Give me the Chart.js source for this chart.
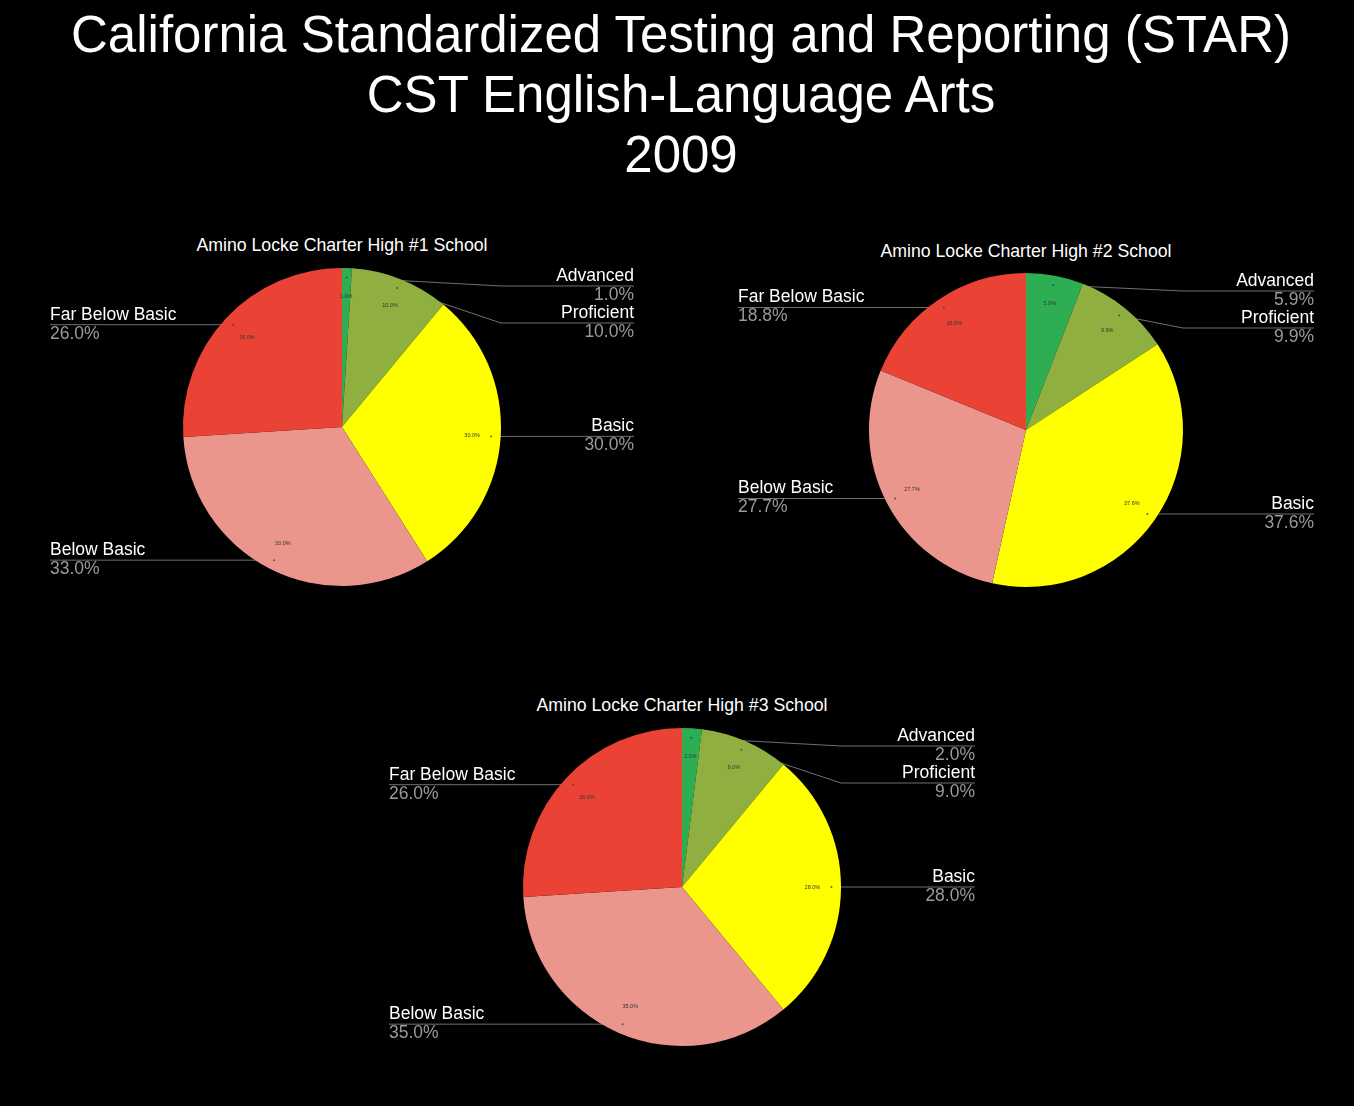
<!DOCTYPE html>
<html>
<head>
<meta charset="utf-8">
<script src="https://cdn.jsdelivr.net/npm/chart.js@4.4.1/dist/chart.umd.min.js"></script>
<style>
  html, body { margin:0; padding:0; background:#000; }
  body { width:1354px; height:1106px; position:relative; overflow:hidden; font-family:"Liberation Sans", Arial, sans-serif; }
  .tline { position:absolute; left:0; width:1362px; text-align:center; color:#fff; font-size:51px; line-height:60px; height:60px; white-space:nowrap; }
  .ptitle { position:absolute; width:600px; text-align:center; color:#fff; font-size:17.7px; line-height:20px; height:20px; white-space:nowrap; }
  canvas { position:absolute; }
</style>
</head>
<body>
<div class="tline" style="top:5px">California Standardized Testing and Reporting (STAR)</div>
<div class="tline" style="top:65px">CST English-Language Arts</div>
<div class="tline" style="top:125px">2009</div>

<script>
// ---- Data ----
const categories = ['Advanced', 'Proficient', 'Basic', 'Below Basic', 'Far Below Basic'];
const schoolNames = ['Amino Locke Charter High #1 School', 'Amino Locke Charter High #2 School', 'Amino Locke Charter High #3 School'];
const school1 = [1.0, 10.0, 30.0, 33.0, 26.0];
const school2 = [5.9, 9.9, 37.6, 27.7, 18.8];
const school3 = [2.0, 9.0, 28.0, 35.0, 26.0];
const sliceColors = ['#2EAE53', '#8FB040', '#FFFF00', '#EA968D', '#EA4335'];

// ---- Layout ----
const layouts = [
  { cx: 342, cy: 427, r: 159, titleY: 245, lab: 292 },
  { cx: 1026, cy: 430, r: 157, titleY: 251, lab: 288 },
  { cx: 682, cy: 887, r: 159, titleY: 705, lab: 293 }
];
const allData = [school1, school2, school3];
const CW = 640, CH = 420;

function makeLabelPlugin(labOffset) {
  return {
    id: 'outLabels',
    computeLabels(chart) {
      const meta = chart.getDatasetMeta(0);
      const data = chart.data.datasets[0].data;
      const items = [];
      meta.data.forEach((arc, i) => {
        const p = arc.getProps(['x','y','startAngle','endAngle','outerRadius'], true);
        const mid = (p.startAngle + p.endAngle) / 2;
        const ax = p.x + Math.cos(mid) * p.outerRadius * 0.94;
        const ay = p.y + Math.sin(mid) * p.outerRadius * 0.94;
        const clockDeg = ((mid + Math.PI / 2) * 180 / Math.PI + 360) % 360;
        items.push({ i, ax, ay, mid, right: clockDeg < 180, cx: p.x, cy: p.y, r: p.outerRadius, value: data[i] });
      });
      ['right', 'left'].forEach(side => {
        const list = items.filter(it => (side === 'right') === it.right).sort((a, b) => a.ay - b.ay);
        let prev = -Infinity;
        list.forEach(it => {
          const top = it.cy - it.r + 18;
          const ly = Math.max(it.ay, top, prev + 37);
          it.ly = ly;
          prev = ly;
        });
      });
      return items;
    },
    beforeDatasetsDraw(chart) {
      const ctx = chart.ctx;
      const items = this.computeLabels(chart);
      chart.$outItems = items;
      ctx.save();
      ctx.strokeStyle = 'rgba(150,150,150,0.75)';
      ctx.lineWidth = 1;
      items.forEach(it => {
        const dir = it.right ? 1 : -1;
        const ex = it.cx + dir * it.r;
        const lx = it.cx + dir * labOffset;
        ctx.beginPath();
        ctx.moveTo(it.ax, it.ay);
        ctx.lineTo(ex, it.ly);
        ctx.lineTo(lx, it.ly);
        ctx.stroke();
      });
      ctx.restore();
    },
    afterDatasetsDraw(chart) {
      const ctx = chart.ctx;
      const items = chart.$outItems || [];
      ctx.save();
      items.forEach(it => {
        ctx.fillStyle = 'rgba(60,60,60,0.8)';
        ctx.beginPath();
        ctx.arc(it.ax, it.ay, 1, 0, Math.PI * 2);
        ctx.fill();
        const ix = it.cx + Math.cos(it.mid) * it.r * 0.82;
        const iy = it.cy + Math.sin(it.mid) * it.r * 0.82;
        ctx.fillStyle = '#333';
        ctx.font = '5.5px "Liberation Sans", Arial, sans-serif';
        ctx.textAlign = 'center';
        ctx.textBaseline = 'middle';
        ctx.fillText(it.value.toFixed(1) + '%', ix, iy);
        const dir = it.right ? 1 : -1;
        const lx = it.cx + dir * labOffset;
        ctx.textAlign = it.right ? 'right' : 'left';
        ctx.font = '17.5px "Liberation Sans", Arial, sans-serif';
        ctx.fillStyle = '#ffffff';
        ctx.fillText(categories[it.i], lx, it.ly - 10);
        ctx.fillStyle = '#9a9a9a';
        ctx.fillText(it.value.toFixed(1) + '%', lx, it.ly + 9);
      });
      ctx.restore();
    }
  };
}

layouts.forEach((L, k) => {
  const t = document.createElement('div');
  t.className = 'ptitle';
  t.textContent = schoolNames[k];
  t.style.left = (L.cx - 300) + 'px';
  t.style.top = (L.titleY - 10) + 'px';
  document.body.appendChild(t);

  const c = document.createElement('canvas');
  c.width = CW; c.height = CH;
  c.style.width = CW + 'px'; c.style.height = CH + 'px';
  c.style.left = (L.cx - CW / 2) + 'px';
  c.style.top = (L.cy - CH / 2) + 'px';
  document.body.appendChild(c);

  const padX = CW / 2 - L.r, padY = CH / 2 - L.r;
  new Chart(c, {
    type: 'pie',
    data: {
      labels: categories,
      datasets: [{ data: allData[k], backgroundColor: sliceColors, borderWidth: 0 }]
    },
    options: {
      responsive: false,
      animation: false,
      layout: { padding: { left: padX, right: padX, top: padY, bottom: padY } },
      plugins: { legend: { display: false }, tooltip: { enabled: false }, title: { display: false } }
    },
    plugins: [makeLabelPlugin(L.lab)]
  });
});
</script>
</body>
</html>
